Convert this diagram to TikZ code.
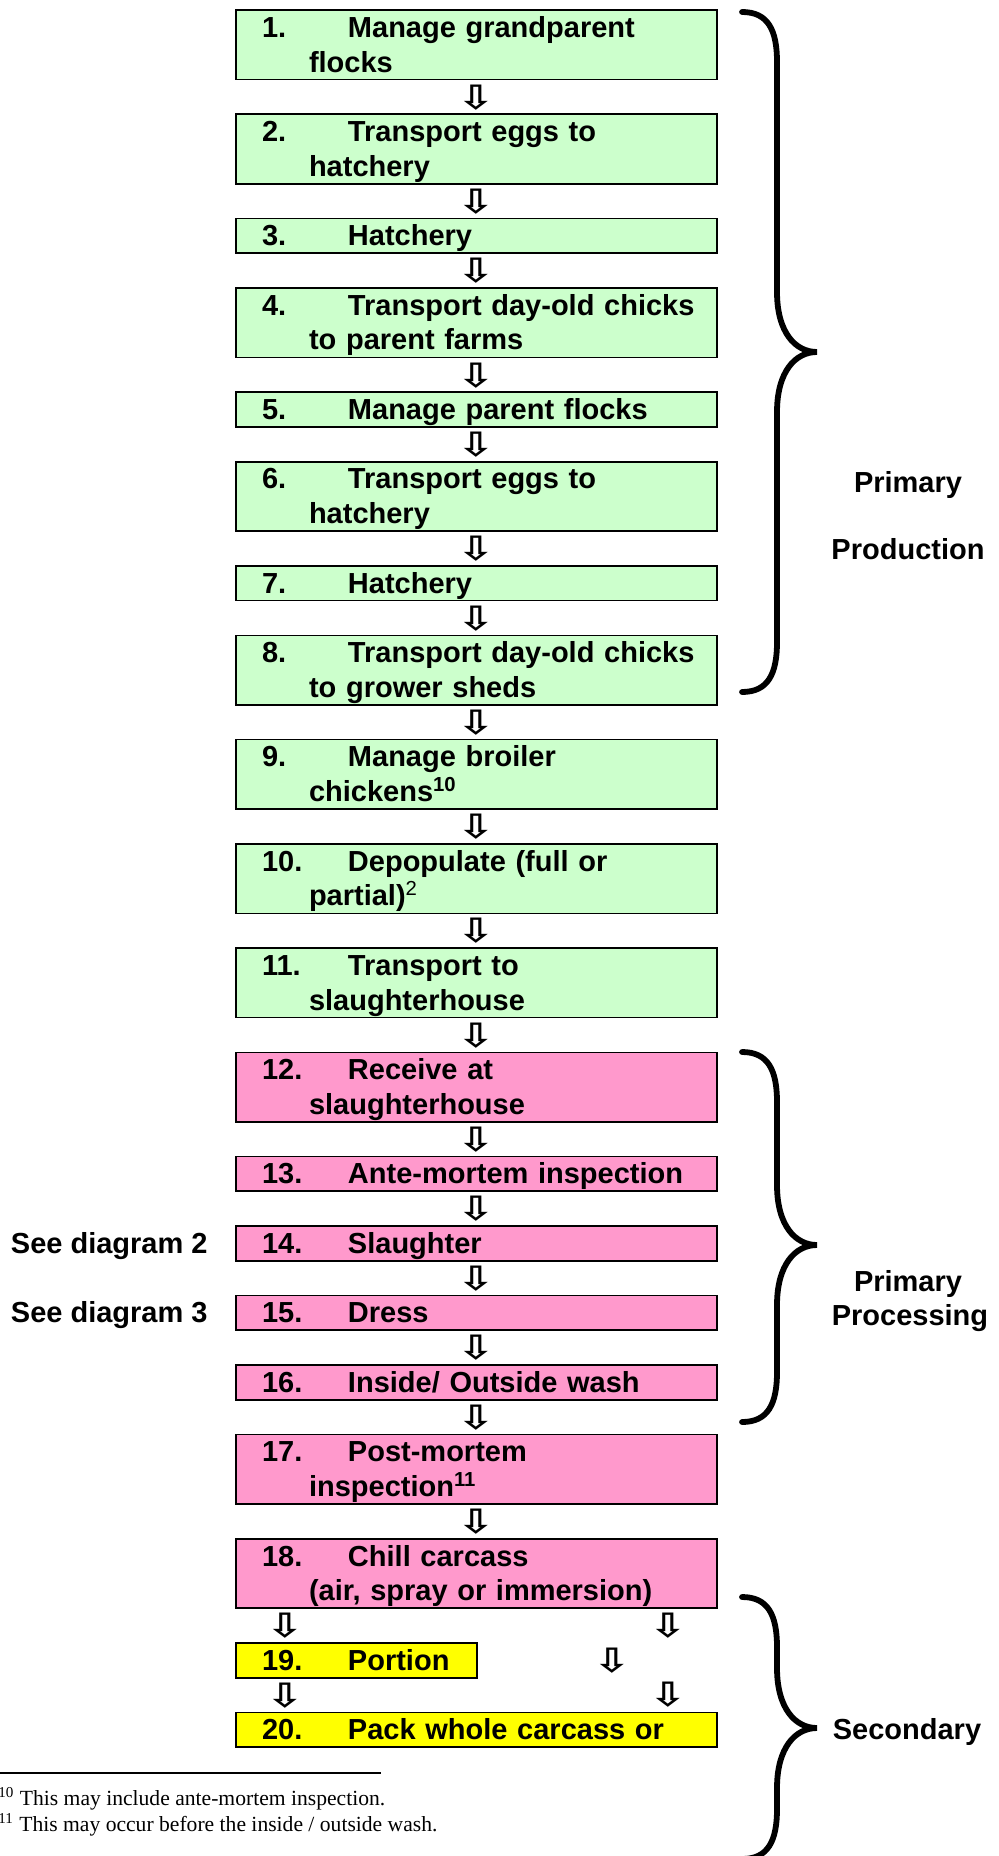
\documentclass[tikz,border=0pt]{standalone}
\usepackage{fontspec}
\setmainfont{Liberation Sans}
\newfontfamily\notefont{Liberation Serif}
\newfontfamily\arrowfont{DejaVu Sans}
\usetikzlibrary{positioning}

\definecolor{prodgreen}{HTML}{CCFFCC}
\definecolor{procpink}{HTML}{FF99CC}
\definecolor{secyellow}{HTML}{FFFF00}

\newcommand{\lstrut}{\rule[-3.72pt]{0pt}{17.36pt}}
\newcommand{\stepno}[1]{\lstrut\hspace*{13pt}\makebox[43pt][l]{#1}}
\newcommand{\nextline}{\\\lstrut\hspace*{36.5pt}}
\newcommand{\downarr}{\scalebox{1.4}[1.05]{⇩}}

\begin{document}
\begin{tikzpicture}[x=0.5pt, y=-0.5pt, node distance=17.38pt,
  stepbox/.style={draw, line width=0.85pt, fill=#1, outer sep=0pt, inner sep=0pt,
    text width=240.5pt, align=left, font=\bfseries\fontsize{14.5}{17.38}\selectfont},
  stepbox/.default=prodgreen,
  flowarrow/.style={inner sep=0pt, minimum height=17.38pt, font=\arrowfont\bfseries\fontsize{16}{16}\selectfont},
  sidelabel/.style={inner sep=0pt, font=\bfseries\fontsize{14.5}{17.38}\selectfont},
  curlybrace/.style={line width=2.9pt, line cap=round}]

\useasboundingbox (0,0) rectangle (999,1856);

% primary production
\node (b1) [stepbox=prodgreen, anchor=north west] at (236,10) {\stepno{1.}Manage grandparent\nextline flocks};
\node (b2) [stepbox=prodgreen, below=of b1] {\stepno{2.}Transport eggs to\nextline hatchery};
\node (b3) [stepbox=prodgreen, below=of b2] {\stepno{3.}Hatchery};
\node (b4) [stepbox=prodgreen, below=of b3] {\stepno{4.}Transport day-old chicks\nextline to parent farms};
\node (b5) [stepbox=prodgreen, below=of b4] {\stepno{5.}Manage parent flocks};
\node (b6) [stepbox=prodgreen, below=of b5] {\stepno{6.}Transport eggs to\nextline hatchery};
\node (b7) [stepbox=prodgreen, below=of b6] {\stepno{7.}Hatchery};
\node (b8) [stepbox=prodgreen, below=of b7] {\stepno{8.}Transport day-old chicks\nextline to grower sheds};
\node (b9) [stepbox=prodgreen, below=of b8] {\stepno{9.}Manage broiler\nextline chickens\textsuperscript{10}};
\node (b10) [stepbox=prodgreen, below=of b9] {\stepno{10.}Depopulate (full or\nextline partial)\textsuperscript{\mdseries 2}};
\node (b11) [stepbox=prodgreen, below=of b10] {\stepno{11.}Transport to\nextline slaughterhouse};

% primary processing
\node (b12) [stepbox=procpink, below=of b11] {\stepno{12.}Receive at\nextline slaughterhouse};
\node (b13) [stepbox=procpink, below=of b12] {\stepno{13.}Ante-mortem inspection};
\node (b14) [stepbox=procpink, below=of b13] {\stepno{14.}Slaughter};
\node (b15) [stepbox=procpink, below=of b14] {\stepno{15.}Dress};
\node (b16) [stepbox=procpink, below=of b15] {\stepno{16.}Inside/ Outside wash};
\node (b17) [stepbox=procpink, below=of b16] {\stepno{17.}Post-mortem\nextline inspection\textsuperscript{11}};
\node (b18) [stepbox=procpink, below=of b17] {\stepno{18.}Chill carcass\nextline (air, spray or immersion)};

% secondary
\node (b19) [stepbox=secyellow, text width=120.5pt, below=of b18.south west, anchor=north west] {\stepno{19.}Portion};
\node (b20) [stepbox=secyellow, below=of b19.south west, anchor=north west] {\stepno{20.}Pack whole carcass or};

% arrows
\node (a1) [flowarrow, below=0pt of b1] {\downarr};
\node (a2) [flowarrow, below=0pt of b2] {\downarr};
\node (a3) [flowarrow, below=0pt of b3] {\downarr};
\node (a4) [flowarrow, below=0pt of b4] {\downarr};
\node (a5) [flowarrow, below=0pt of b5] {\downarr};
\node (a6) [flowarrow, below=0pt of b6] {\downarr};
\node (a7) [flowarrow, below=0pt of b7] {\downarr};
\node (a8) [flowarrow, below=0pt of b8] {\downarr};
\node (a9) [flowarrow, below=0pt of b9] {\downarr};
\node (a10) [flowarrow, below=0pt of b10] {\downarr};
\node (a11) [flowarrow, below=0pt of b11] {\downarr};
\node (a12) [flowarrow, below=0pt of b12] {\downarr};
\node (a13) [flowarrow, below=0pt of b13] {\downarr};
\node (a14) [flowarrow, below=0pt of b14] {\downarr};
\node (a15) [flowarrow, below=0pt of b15] {\downarr};
\node (a16) [flowarrow, below=0pt of b16] {\downarr};
\node (a17) [flowarrow, below=0pt of b17] {\downarr};
\node (a18l) [flowarrow, below=0pt of b18.south west, xshift=24.5pt] {\downarr};
\node (a18r) [flowarrow, below=0pt of b18.south east, xshift=-24.5pt] {\downarr};
\node (a19m) [flowarrow] at ([xshift=67.5pt]b19.east) {\downarr};
\node (a19l) [flowarrow, below=0pt of b19.south west, xshift=24.5pt] {\downarr};
\node (a19r) [flowarrow, above=0pt of b20.north east, xshift=-24.5pt] {\downarr};

% side notes
\node (see2) [sidelabel, left=14pt of b14] {\lstrut See diagram 2};
\node (see3) [sidelabel, left=14pt of b15] {\lstrut See diagram 3};

% braces
\draw[curlybrace] (742,12) .. controls (768,12) and (777,30) .. (777,62) -- (777,292)
  .. controls (777,332) and (795,352) .. (817,352) .. controls (795,352) and (777,372) .. (777,412)
  -- (777,642) .. controls (777,674) and (768,692) .. (742,692);
\draw[curlybrace] (742,1052) .. controls (768,1052) and (777,1070) .. (777,1102) -- (777,1185)
  .. controls (777,1225) and (795,1245) .. (817,1245) .. controls (795,1245) and (777,1265) .. (777,1305)
  -- (777,1372) .. controls (777,1404) and (768,1422) .. (742,1422);
\draw[curlybrace] (742,1597) .. controls (768,1597) and (777,1615) .. (777,1647) -- (777,1668)
  .. controls (777,1708) and (795,1728) .. (817,1728) .. controls (795,1728) and (777,1748) .. (777,1788)
  -- (777,1809) .. controls (777,1841) and (768,1859) .. (742,1859);

\node (prim1) [sidelabel, anchor=base] at (908,492) {Primary};
\node (prod) [sidelabel, anchor=base] at (908,559) {Production};
\node (prim2) [sidelabel, anchor=base] at (908,1291) {Primary};
\node (proc) [sidelabel, anchor=base] at (910,1325) {Processing};
\node (sec) [sidelabel, anchor=base] at (907,1739) {Secondary};

% footnotes
\draw[line width=1pt] (0,1773) -- (381,1773);
\node (fn10) [anchor=base west, inner sep=0pt, font=\notefont\fontsize{10.8}{12.5}\selectfont] at (-2,1805) {\textsuperscript{10} This may include ante-mortem inspection.};
\node (fn11) [anchor=base west, inner sep=0pt, font=\notefont\fontsize{10.8}{12.5}\selectfont] at (-2,1831) {\textsuperscript{11} This may occur before the inside / outside wash.};
\end{tikzpicture}
\end{document}
